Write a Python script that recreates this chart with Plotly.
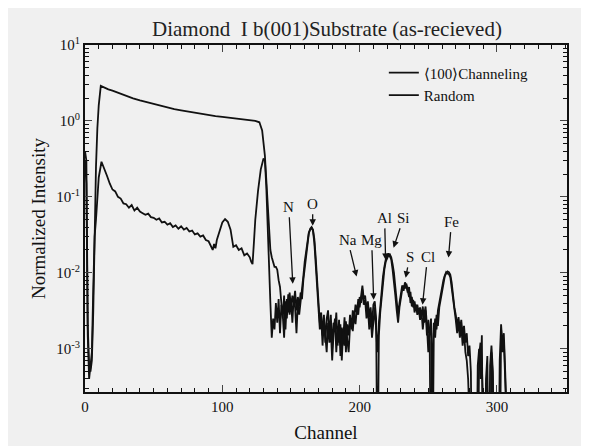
import plotly.graph_objects as go

# ---------------- data ----------------
CH_HEAD_X = [0, 1, 2, 3, 4, 5, 6, 7, 8, 9, 10, 11.5, 14, 17, 20, 23, 26, 30, 35, 40, 45, 50,
             55, 60, 65, 70, 75, 80, 85, 90, 95, 100, 105, 110, 115, 120, 124, 127, 129, 131]
CH_HEAD_Y = [0.4, 0.3, 0.002, 0.0006, 0.0005, 0.0007, 0.003, 0.04, 0.25, 0.8, 1.6, 2.9,
             2.75, 2.6, 2.5, 2.38, 2.27, 2.13, 1.98, 1.86, 1.76, 1.67, 1.58, 1.5, 1.43, 1.38,
             1.33, 1.28, 1.24, 1.2, 1.16, 1.13, 1.1, 1.07, 1.04, 1.02, 1.0, 0.96, 0.75, 0.35]
CH_TAIL_START = 133
CH_TAIL_Y = [
    0.08, 0.03, 0.02, 0.016, 0.014, 0.012, 0.012, 0.011, 0.008, 0.0065,            # 133-142
    0.004, 0.0025, 0.005, 0.0018, 0.0045, 0.003, 0.0055, 0.0035, 0.005, 0.004,     # 143-152
    0.0058, 0.0032, 0.0048, 0.0036, 0.0055, 0.0045, 0.008, 0.012, 0.018, 0.026,    # 153-162
    0.033, 0.038, 0.04, 0.037, 0.028, 0.016, 0.008, 0.0045, 0.0022, 0.003,        # 163-172
    0.0015, 0.0028, 0.0012, 0.0025, 0.0032, 0.0014, 0.0028, 0.001, 0.0022, 0.0017, # 173-182
    0.003, 0.0011, 0.0024, 0.0008, 0.0019, 0.0013, 0.0026, 0.0009, 0.0021, 0.0015, # 183-192
    0.0028, 0.0018, 0.0032, 0.0025, 0.0038, 0.003, 0.0045, 0.0035, 0.0055, 0.0068, # 193-202
    0.0045, 0.005, 0.0032, 0.0042, 0.0026, 0.0035, 0.002, 0.0038, 0.0042, 0.0025,  # 203-212
    0.00001, 0.0015, 0.003, 0.005, 0.008, 0.011, 0.014, 0.016, 0.017, 0.0175,      # 213-222
    0.016, 0.013, 0.01, 0.0065, 0.0045, 0.0028, 0.004, 0.0055, 0.0068, 0.0058,     # 223-232
    0.0075, 0.0068, 0.0055, 0.0065, 0.004, 0.0048, 0.0035, 0.0042, 0.0032, 0.0038, # 233-242
    0.003, 0.0035, 0.0026, 0.0036, 0.0022, 0.0032, 0.0015, 0.0024, 0.0012, 0.00001,# 243-252
    0.0008, 0.0022, 0.0014, 0.0028, 0.002, 0.0035, 0.0045, 0.006, 0.0075, 0.009,   # 253-262
    0.0098, 0.0104, 0.0102, 0.0095, 0.0075, 0.005, 0.0035, 0.0028, 0.002, 0.0026,  # 263-272
    0.0018, 0.0024, 0.0015, 0.002, 0.0012, 0.0016, 0.0008, 0.0011, 0.0005, 0.00001,# 273-282
    0.00001, 0.00001, 0.00001, 0.0006, 0.001, 0.0004, 0.0015, 0.00001, 0.00001, 0.0004, # 283-292
    0.0008, 0.00001, 0.0006, 0.0011, 0.0005, 0.00001, 0.00001, 0.00001, 0.00001, 0.0007, # 293-302
    0.0021, 0.0011, 0.0016, 0.0005, 0.00001, 0.00001, 0.00001, 0.00001,            # 303-310
]

RD_HEAD_X = [0, 1, 2, 3, 4, 5, 6, 7, 8, 9, 10, 12, 14, 16, 18, 20, 22, 24, 26, 28, 30, 32,
             34, 36, 38, 40, 42, 44, 46, 48, 50, 52, 54, 56, 58, 60, 62, 64, 66, 68, 70, 72,
             74, 76, 78, 80, 82, 84, 86, 88, 90, 92, 93, 94, 95, 96, 98, 100, 102, 104, 106,
             107, 108, 110, 112, 114, 116, 118, 120, 121, 122, 123, 124, 126, 128, 130, 131, 132]
RD_HEAD_Y = [0.3, 0.15, 0.0015, 0.0004, 0.0006, 0.0009, 0.006, 0.03, 0.05, 0.09, 0.18, 0.29,
             0.24, 0.19, 0.15, 0.125, 0.118, 0.1, 0.095, 0.082, 0.08, 0.072, 0.078, 0.066,
             0.072, 0.064, 0.061, 0.058, 0.06, 0.054, 0.053, 0.05, 0.052, 0.046, 0.047, 0.043,
             0.045, 0.04, 0.042, 0.038, 0.041, 0.037, 0.039, 0.035, 0.036, 0.032, 0.033, 0.03,
             0.031, 0.027, 0.026, 0.022, 0.02, 0.024, 0.021, 0.027, 0.036, 0.046, 0.051, 0.047,
             0.037, 0.026, 0.022, 0.023, 0.02, 0.021, 0.017, 0.018, 0.016, 0.014, 0.013, 0.025,
             0.05, 0.12, 0.23, 0.32, 0.3, 0.14]
RD_TAIL_START = 133
RD_TAIL_Y = [
    0.035, 0.01, 0.004, 0.0014, 0.0025, 0.0018, 0.004, 0.0022, 0.0045, 0.0016,    # 133-142
    0.0038, 0.0028, 0.0014, 0.0042, 0.0025, 0.0052, 0.0028, 0.0045, 0.0022, 0.0048,# 143-152
    0.0035, 0.0016, 0.004, 0.0028, 0.0045, 0.006, 0.009, 0.014, 0.02, 0.027,       # 153-162
    0.034, 0.037, 0.039, 0.036, 0.025, 0.013, 0.006, 0.003, 0.0018, 0.0026,        # 163-172
    0.0011, 0.0024, 0.0016, 0.0009, 0.0022, 0.0012, 0.0018, 0.0007, 0.0016, 0.0025,# 173-182
    0.0009, 0.0019, 0.0012, 0.0021, 0.0007, 0.0017, 0.0011, 0.0023, 0.0013, 0.0009,# 183-192
    0.002, 0.0024, 0.0017, 0.0029, 0.0021, 0.0034, 0.0028, 0.0048, 0.004, 0.006,   # 193-202
    0.0038, 0.0044, 0.0025, 0.0035, 0.0018, 0.0028, 0.0014, 0.0026, 0.0035, 0.0018,# 203-212
    0.0009, 0.0022, 0.0038, 0.006, 0.009, 0.012, 0.015, 0.0165, 0.018, 0.0165,     # 213-222
    0.015, 0.011, 0.008, 0.005, 0.0032, 0.0022, 0.0035, 0.0048, 0.006, 0.0068,     # 223-232
    0.0062, 0.0072, 0.0058, 0.0048, 0.0056, 0.0036, 0.0044, 0.003, 0.0038, 0.0028, # 233-242
    0.0034, 0.0024, 0.0032, 0.0018, 0.0028, 0.0036, 0.002, 0.0009, 0.0018, 0.0025, # 243-252
    0.00001, 0.0016, 0.0025, 0.0018, 0.0032, 0.004, 0.0052, 0.0068, 0.008, 0.0092, # 253-262
    0.0102, 0.0098, 0.0096, 0.0088, 0.0065, 0.0042, 0.003, 0.0024, 0.0016, 0.0022, # 263-272
    0.0014, 0.002, 0.0011, 0.0017, 0.0009, 0.0007, 0.0004, 0.00001, 0.00001, 0.00001, # 273-282
    0.00001, 0.00001, 0.00001, 0.00001, 0.0008, 0.0012, 0.0006, 0.00001, 0.00001, 0.00001, # 283-292
    0.00001, 0.00001, 0.00001, 0.0009, 0.0004, 0.00001, 0.00001, 0.00001, 0.00001, 0.00001, # 293-302
    0.0018, 0.0009, 0.0013, 0.0004, 0.00001, 0.00001, 0.00001, 0.00001,            # 303-310
]

X_TICKS = [0, 100, 200, 300]
Y_TICKS = [1e-3, 1e-2, 1e-1, 1, 10]
Y_TICK_TEXT = ["10<sup>-3</sup>", "10<sup>-2</sup>", "10<sup>-1</sup>", "10<sup>0</sup>", "10<sup>1</sup>"]

# element labels: (name, channel of arrow tip, log10 intensity of tip, text dx, text dy)
ELEMENTS = ["N", "O", "Na", "Mg", "Al", "Si", "S", "Cl", "Fe"]
EL_CH = [151.3, 165.8, 197.8, 210.2, 218.9, 224.7, 233.5, 245.8, 264.7]
EL_LOG = [-2.145, -1.38, -2.05, -2.355, -1.83, -1.67, -2.066, -2.42, -1.80]
EL_DX = [-4, 0, -9, -2, -1, 10, 4, 5, 3]
EL_DY = [-77, -22, -37, -60, -42, -30, -21, -48, -36]

# ---------------- figure ----------------
ch_x = CH_HEAD_X + list(range(CH_TAIL_START, CH_TAIL_START + len(CH_TAIL_Y)))
ch_y = CH_HEAD_Y + CH_TAIL_Y
rd_x = RD_HEAD_X + list(range(RD_TAIL_START, RD_TAIL_START + len(RD_TAIL_Y)))
rd_y = RD_HEAD_Y + RD_TAIL_Y

FONT = "Liberation Serif"
BG = "#f0f0f0"
INK = "#111111"

fig = go.Figure()
fig.add_trace(go.Scatter(x=ch_x, y=ch_y, mode="lines", name="⟨100⟩Channeling",
                         line=dict(color=INK, width=1.8)))
fig.add_trace(go.Scatter(x=rd_x, y=rd_y, mode="lines", name="Random",
                         line=dict(color=INK, width=1.8)))

for name, cx, ly, dx, dy in zip(ELEMENTS, EL_CH, EL_LOG, EL_DX, EL_DY):
    fig.add_annotation(x=cx, y=ly, xref="x", yref="y", text=name,
                       showarrow=True, ax=dx, ay=dy, arrowhead=2, arrowsize=1,
                       arrowwidth=1.3, arrowcolor=INK, standoff=0, startstandoff=1,
                       font=dict(family=FONT, size=15, color=INK))

# the page body adds an 8px margin, so the figure is sized to fit the 589x446 window
fig.update_layout(
    width=581, height=438,
    paper_bgcolor=BG, plot_bgcolor=BG,
    margin=dict(l=77, r=22, t=37, b=54),
    font=dict(family=FONT, color=INK, size=14),
    title=dict(text="Diamond\u00a0\u00a0I b(001)Substrate (as-recieved)",
               x=0.549, xanchor="center", y=0.953, yanchor="middle",
               font=dict(family=FONT, size=21, color="#222222")),
    showlegend=True,
    legend=dict(x=0.62, y=0.967, xanchor="left", yanchor="top",
                bgcolor="rgba(0,0,0,0)", font=dict(family=FONT, size=15, color=INK),
                itemwidth=30, tracegroupgap=0),
)
fig.update_xaxes(
    range=[0, 351], tickvals=X_TICKS, ticks="inside", ticklen=7, tickwidth=1.3,
    showline=True, linecolor=INK, linewidth=2, mirror="allticks", automargin=False,
    showgrid=False, zeroline=False, tickfont=dict(family=FONT, size=15),
    minor=dict(dtick=10, ticks="inside", ticklen=4, tickwidth=1.2, tickcolor=INK),
    title=dict(text="Channel", font=dict(family=FONT, size=19), standoff=12),
)
fig.update_yaxes(
    type="log", range=[-3.57, 1], tickvals=Y_TICKS, ticktext=Y_TICK_TEXT,
    ticks="inside", ticklen=7, tickwidth=1.3,
    showline=True, linecolor=INK, linewidth=2, mirror="allticks", automargin=False,
    showgrid=False, zeroline=False, tickfont=dict(family=FONT, size=15),
    minor=dict(ticks="inside", ticklen=4, tickwidth=1, tickcolor=INK, dtick="D1"),
    title=dict(text="Normalized Intensity", font=dict(family=FONT, size=19), standoff=6),
)

fig.write_html("out.html")
